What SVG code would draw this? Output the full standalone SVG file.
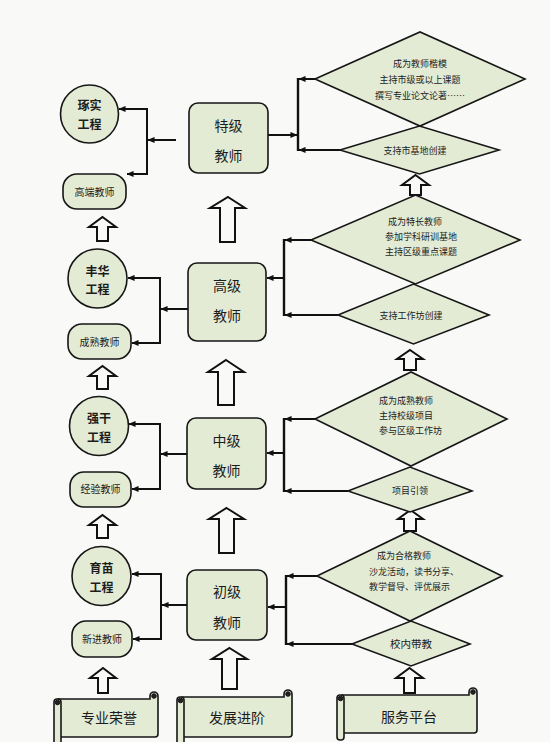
<svg xmlns="http://www.w3.org/2000/svg" width="550" height="742" viewBox="0 0 550 742">
<defs>
<style>
.bg{fill:#f9f9f8}
.n{fill:#e3ebd4;stroke:#161616;stroke-width:1.6}
.k{fill:#222;stroke:#161616;stroke-width:1}
.ho{fill:none;stroke:#111;stroke-width:2;stroke-linejoin:miter}
.c line{stroke:#111;stroke-width:2}
.t{font-family:"Noto Sans CJK SC","Noto Sans",sans-serif;fill:#1c1c1c;text-anchor:middle}
.ts{font-size:9px}
.tm{font-size:10px}
.tc{font-size:12px;font-weight:bold}
.tb{font-size:14px}
.tl{text-anchor:start}
</style>
<marker id="ah" viewBox="0 0 8 8" refX="7.5" refY="4" markerWidth="7" markerHeight="7" markerUnits="userSpaceOnUse" orient="auto">
<path d="M0,0.5 L8,4 L0,7.5 Z" fill="#111"/>
</marker>
</defs>
<rect class="bg" x="0" y="0" width="550" height="742"/>

<!-- connectors -->
<g id="connectors" class="c">
<!-- left side -->
<line x1="147" y1="108" x2="147" y2="175"/>
<line x1="147" y1="109" x2="119" y2="109" marker-end="url(#ah)"/>
<line x1="147" y1="174" x2="127" y2="174" marker-end="url(#ah)"/>
<line x1="176" y1="140" x2="148" y2="140" marker-end="url(#ah)"/>

<line x1="160" y1="277" x2="160" y2="344"/>
<line x1="160" y1="278" x2="128" y2="278" marker-end="url(#ah)"/>
<line x1="160" y1="343" x2="132" y2="343" marker-end="url(#ah)"/>
<line x1="188" y1="309" x2="161" y2="309" marker-end="url(#ah)"/>

<line x1="160" y1="423" x2="160" y2="490"/>
<line x1="160" y1="424" x2="129" y2="424" marker-end="url(#ah)"/>
<line x1="160" y1="489" x2="132" y2="489" marker-end="url(#ah)"/>
<line x1="187" y1="454" x2="161" y2="454" marker-end="url(#ah)"/>

<line x1="161" y1="573" x2="161" y2="640"/>
<line x1="161" y1="574" x2="132" y2="574" marker-end="url(#ah)"/>
<line x1="161" y1="639" x2="133" y2="639" marker-end="url(#ah)"/>
<line x1="187" y1="605" x2="162" y2="605" marker-end="url(#ah)"/>

<!-- right side -->
<line x1="298" y1="78" x2="298" y2="151" style="stroke-width:2.4"/>
<line x1="315" y1="79" x2="299" y2="79" marker-end="url(#ah)"/>
<line x1="340" y1="150" x2="299" y2="150" marker-end="url(#ah)"/>
<line x1="268" y1="135" x2="297" y2="135" marker-end="url(#ah)"/>

<line x1="284" y1="239" x2="284" y2="316" style="stroke-width:2.4"/>
<line x1="311" y1="240" x2="285" y2="240" marker-end="url(#ah)"/>
<line x1="338" y1="315" x2="285" y2="315" marker-end="url(#ah)"/>
<line x1="284" y1="278" x2="267" y2="278" marker-end="url(#ah)"/>

<line x1="284" y1="418" x2="284" y2="492" style="stroke-width:2.4"/>
<line x1="315" y1="419" x2="285" y2="419" marker-end="url(#ah)"/>
<line x1="348" y1="491" x2="285" y2="491" marker-end="url(#ah)"/>
<line x1="284" y1="453" x2="267" y2="453" marker-end="url(#ah)"/>

<line x1="286" y1="575" x2="286" y2="645" style="stroke-width:2.4"/>
<line x1="317" y1="576" x2="287" y2="576" marker-end="url(#ah)"/>
<line x1="352" y1="644" x2="287" y2="644" marker-end="url(#ah)"/>
<line x1="286" y1="607" x2="268" y2="607" marker-end="url(#ah)"/>
</g>

<!-- hollow block arrows -->
<g id="block-arrows">
<polygon class="ho" points="228,197 245,208 235,208 235,242 220,242 220,208 210,208"/>
<polygon class="ho" points="226,360 244,372 234,372 234,405 218,405 218,372 208,372"/>
<polygon class="ho" points="226.5,508 244,519 234,519 234,553 219,553 219,519 209,519"/>
<polygon class="ho" points="229.5,648 247,659 237,659 237,689 222,689 222,659 212,659"/>

<polygon class="ho" points="102.5,217 116,227 108,227 108,241 97,241 97,227 89,227"/>
<polygon class="ho" points="102.5,366 116,376 108,376 108,389 97,389 97,376 89,376"/>
<polygon class="ho" points="102.5,515 116,525 108,525 108,538 97,538 97,525 89,525"/>
<polygon class="ho" points="103,668 116,678 108,678 108,693 98,693 98,678 90,678"/>

<polygon class="ho" points="415.5,175 429,185 421,185 421,195 410,195 410,185 402,185"/>
<polygon class="ho" points="410,350 423,359 416,359 416,370 404,370 404,359 397,359"/>
<polygon class="ho" points="410.5,510 423,519 416,519 416,531 404,531 404,519 398,519"/>
<polygon class="ho" points="409.5,668 423,678 415,678 415,693 404,693 404,678 396,678"/>
</g>

<!-- teacher boxes -->
<g id="box-teji"><rect class="n" x="189" y="103" width="79" height="70" rx="9"/>
<text class="t tb" x="228.5" y="131">特级</text><text class="t tb" x="228.5" y="161">教师</text></g>
<g id="box-gaoji"><rect class="n" x="188" y="263" width="78" height="78" rx="9"/>
<text class="t tb" x="227" y="291">高级</text><text class="t tb" x="227" y="321">教师</text></g>
<g id="box-zhongji"><rect class="n" x="187" y="418" width="79" height="71" rx="9"/>
<text class="t tb" x="226.5" y="446">中级</text><text class="t tb" x="226.5" y="476">教师</text></g>
<g id="box-chuji"><rect class="n" x="187" y="570" width="80" height="70" rx="9"/>
<text class="t tb" x="227" y="597">初级</text><text class="t tb" x="227" y="628">教师</text></g>

<!-- circles -->
<g id="c-zhuoshi"><circle class="n" cx="89.5" cy="114" r="29"/>
<text class="t tc" x="89.5" y="110">琢实</text><text class="t tc" x="89.5" y="129">工程</text></g>
<g id="c-fenghua"><circle class="n" cx="97.5" cy="278.5" r="29.5"/>
<text class="t tc" x="97.5" y="276">丰华</text><text class="t tc" x="97.5" y="294">工程</text></g>
<g id="c-qianggan"><circle class="n" cx="99" cy="426" r="29.5"/>
<text class="t tc" x="99" y="422.5">强干</text><text class="t tc" x="99" y="441.5">工程</text></g>
<g id="c-yumiao"><circle class="n" cx="101.5" cy="576" r="29.5"/>
<text class="t tc" x="101.5" y="572.5">育苗</text><text class="t tc" x="101.5" y="591.5">工程</text></g>

<!-- rounded rects -->
<g id="r-gaoduan"><rect class="n" x="63" y="174" width="63" height="35" rx="14"/>
<text class="t tm" x="94.5" y="195.5">高端教师</text></g>
<g id="r-chengshu"><rect class="n" x="68" y="324" width="63" height="35" rx="14"/>
<text class="t tm" x="99.5" y="345.5">成熟教师</text></g>
<g id="r-jingyan"><rect class="n" x="70" y="472" width="61" height="35" rx="14"/>
<text class="t tm" x="100.5" y="493">经验教师</text></g>
<g id="r-xinjin"><rect class="n" x="72" y="621" width="60" height="36" rx="14"/>
<text class="t tm" x="102" y="642.5">新进教师</text></g>

<!-- diamonds -->
<g id="d1"><polygon class="n" points="315,79 420,32 525,79 420,126"/>
<text class="t ts" x="420" y="67">成为教师楷模</text>
<text class="t ts" x="420" y="83">主持市级或以上课题</text>
<text class="t ts" x="420" y="99">撰写专业论文论著……</text></g>
<g id="d1s"><polygon class="n" points="340,150 419.5,126 499,150 419.5,174"/>
<text class="t ts" x="415" y="153.5">支持市基地创建</text></g>

<g id="d2"><polygon class="n" points="311,240 415.5,195 520,240 415.5,284"/>
<text class="t ts tl" x="388" y="225">成为特长教师</text>
<text class="t ts tl" x="385" y="240">参加学科研训基地</text>
<text class="t ts tl" x="385" y="255">主持区级重点课题</text></g>
<g id="d2s"><polygon class="n" points="338,315 413.5,284 489,315 413.5,344"/>
<text class="t ts" x="411" y="318.5">支持工作坊创建</text></g>

<g id="d3"><polygon class="n" points="315,419 411,372 507,419 411,466"/>
<text class="t ts tl" x="379" y="404">成为成熟教师</text>
<text class="t ts tl" x="379" y="419">主持校级项目</text>
<text class="t ts tl" x="379" y="434">参与区级工作坊</text></g>
<g id="d3s"><polygon class="n" points="348,491 410,467 472,491 410,512"/>
<text class="t ts" x="410" y="494">项目引领</text></g>

<g id="d4"><polygon class="n" points="317,576 410,531 502,576 410,621"/>
<text class="t ts tl" x="377" y="559">成为合格教师</text>
<text class="t ts tl" x="369" y="575">沙龙活动，读书分享、</text>
<text class="t ts tl" x="369" y="590">教学督导、评优展示</text></g>
<g id="d4s"><polygon class="n" points="352,644 411,621 470,644 411,666"/>
<text class="t" style="font-size:10.5px" x="411" y="648">校内带教</text></g>

<!-- scrolls -->
<g id="s-rongyu">
<path class="n" d="M58,699 H150 V696 A4,4 0 0 1 158,696 V734 Q158,737 155,737 H58 Z"/>
<circle class="k" cx="154" cy="696" r="2.3"/>
<rect class="n" x="54" y="699" width="7" height="50" rx="3"/>
<circle class="k" cx="57.5" cy="702.5" r="2.3"/>
<text class="t tb" x="109" y="723">专业荣誉</text>
</g>
<g id="s-jinjie">
<path class="n" d="M182,697 H284 V694 A4,4 0 0 1 292,694 V734 Q292,737 289,737 H182 Z"/>
<circle class="k" cx="288" cy="694" r="2.3"/>
<rect class="n" x="177" y="697" width="7" height="52" rx="3"/>
<circle class="k" cx="180.5" cy="700.5" r="2.3"/>
<text class="t tb" x="237" y="723">发展进阶</text>
</g>
<g id="s-pingtai">
<path class="n" d="M342,695 H469 V692 A4,4 0 0 1 477,692 V730 Q477,733 474,733 H342 Z"/>
<circle class="k" cx="473" cy="692" r="2.3"/>
<rect class="n" x="337" y="695" width="7" height="45" rx="3"/>
<circle class="k" cx="340.5" cy="698.5" r="2.3"/>
<text class="t tb" x="409" y="722">服务平台</text>
</g>
</svg>
